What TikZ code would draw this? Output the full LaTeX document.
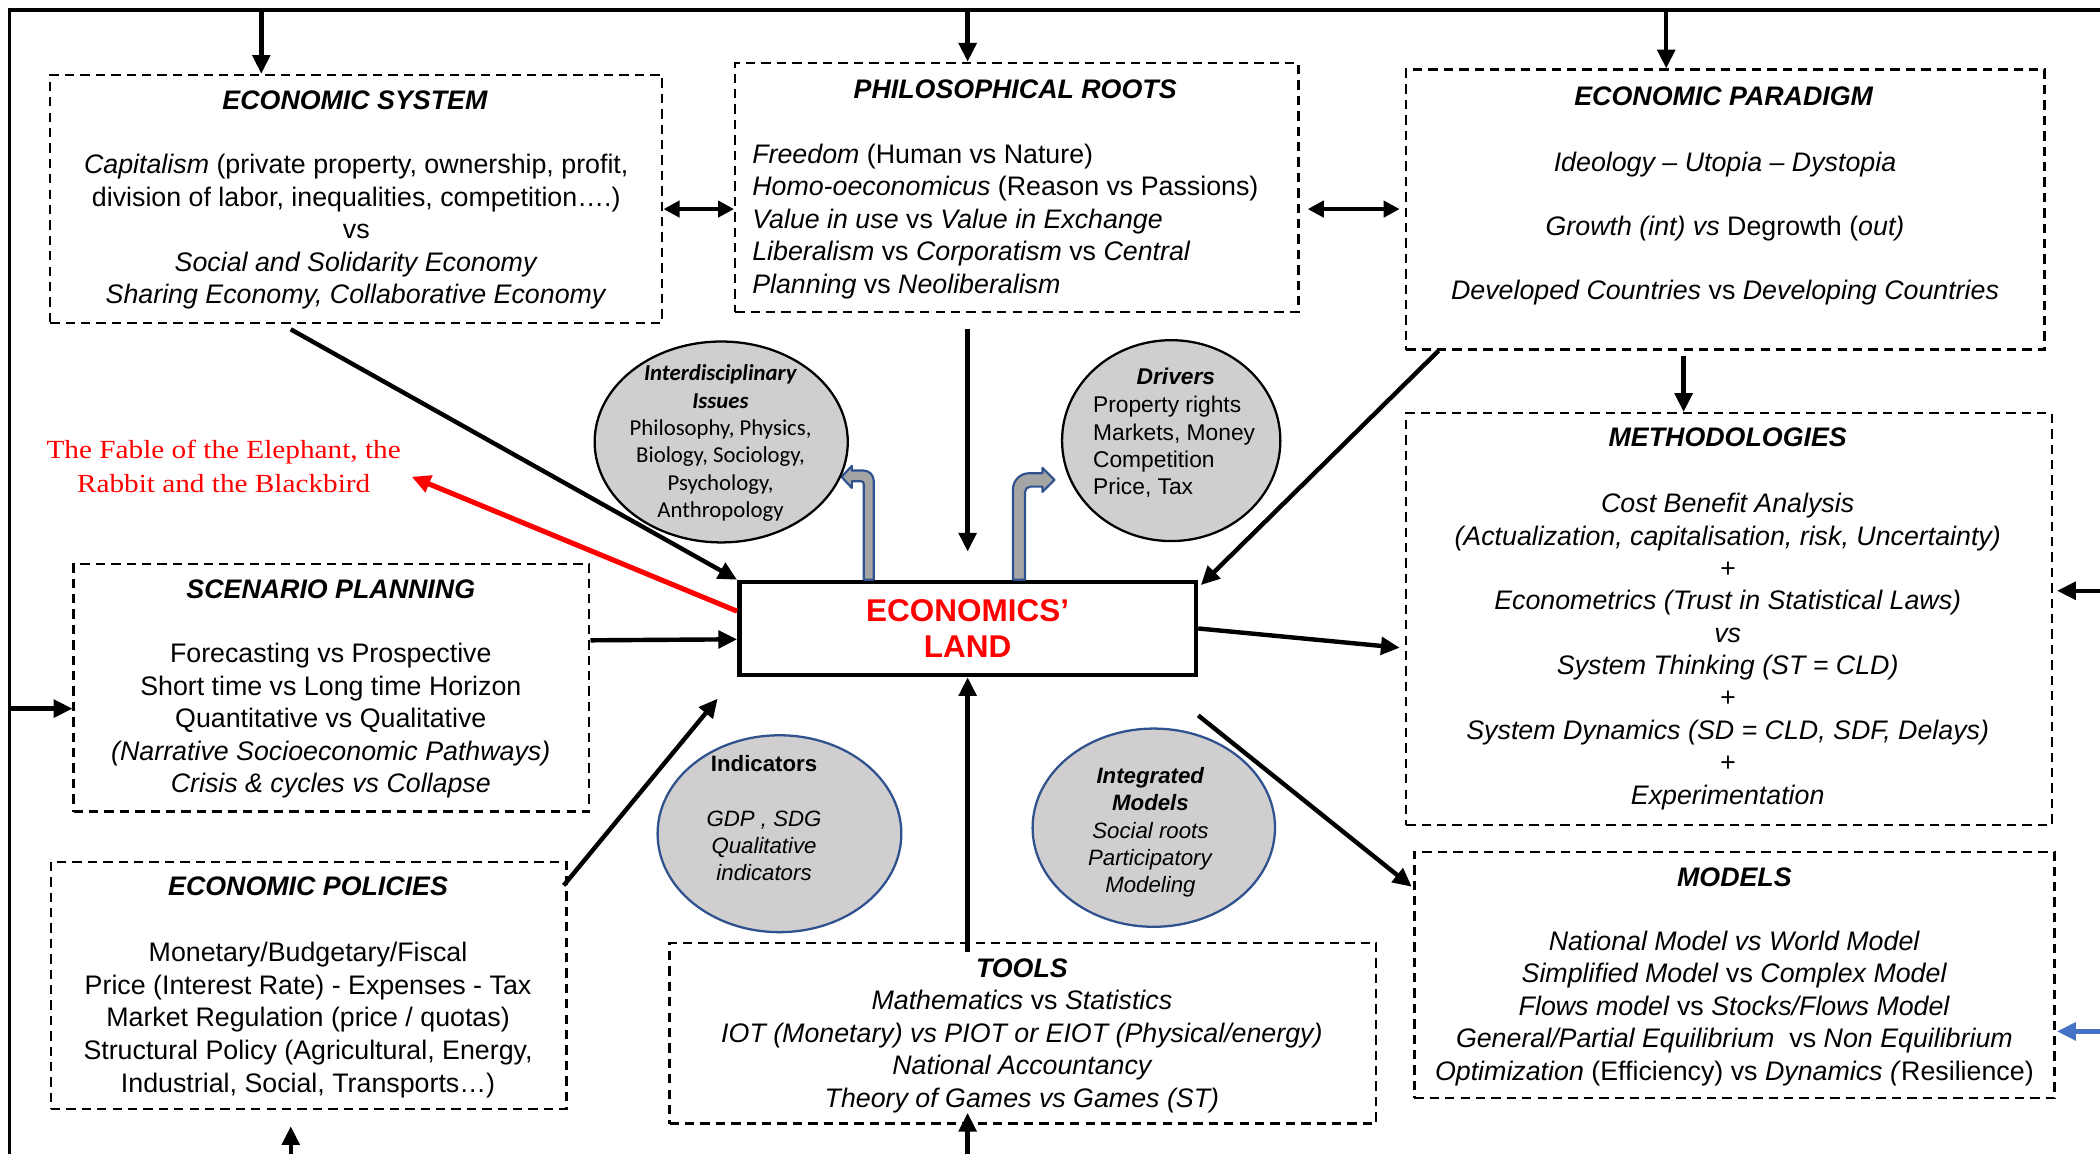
\documentclass[tikz,border=0pt]{standalone}
\usepackage{fontspec}
\setmainfont{Liberation Sans}
\newfontfamily\calibri{Carlito}
\newfontfamily\fablefont[FakeStretch=1.12]{Liberation Serif}
\usetikzlibrary{arrows.meta,calc,shapes.geometric}
\definecolor{ellgray}{HTML}{D0CECE}
\definecolor{darkblue}{HTML}{2F528F}
\definecolor{midblue}{HTML}{4472C4}
\definecolor{arrgray}{HTML}{A5A5A5}
\newcommand{\fst}{\rule{0pt}{0.9em}}
\begin{document}
\begin{tikzpicture}[x=1pt,y=-1pt,
  dbox/.style={draw, line width=1.8pt, dash pattern=on 7pt off 4.5pt, inner sep=0pt},
  framel/.style={line width=2.4pt},
  conn/.style={line width=3.3pt, -{Triangle[length=14pt,width=13pt]}},
  dconn/.style={line width=3.3pt, {Triangle[length=12pt,width=12pt]}-{Triangle[length=12pt,width=12pt]}},
  rconn/.style={conn, red, line width=3.8pt},
  bconn/.style={conn, midblue},
  ell/.style={ellipse, draw=black, line width=1.7pt, fill=ellgray, inner sep=0pt},
  bell/.style={ell, draw=darkblue},
  ttl/.style={font=\fontsize{20}{24}\selectfont\bfseries\itshape, anchor=base, inner sep=0pt},
  body/.style={font=\fontsize{20}{24.25}\selectfont, align=center, anchor=north, inner sep=0pt},
  bent/.style={fill=arrgray, draw=darkblue, line width=1.6pt, line join=round},
]
\useasboundingbox (0,0) rectangle (1568,862);
\fill[white] (0,0) rectangle (1568,862);

% boxes
\node[dbox, minimum width=457pt, minimum height=185pt] (esys) at (266,148.5) {};
\node[dbox, minimum width=420.5pt, minimum height=186pt] (phil) at (759.25,140) {};
\node[dbox, minimum width=476.5pt, minimum height=209pt] (para) at (1288.25,156.5) {};
\node[dbox, minimum width=482pt, minimum height=307.5pt] (meth) at (1291,462.25) {};
\node[dbox, minimum width=478pt, minimum height=184pt] (models) at (1295,728) {};
\node[dbox, minimum width=385pt, minimum height=185pt] (scen) at (247.5,513.5) {};
\node[dbox, minimum width=385pt, minimum height=184.5pt] (pol) at (230.5,735.75) {};
\node[dbox, minimum width=527.5pt, minimum height=135pt] (tools) at (763.75,771.5) {};

\node[draw, line width=3.3pt, fill=white, minimum width=341pt, minimum height=69.5pt, inner sep=0pt, align=center, text=red, font=\fontsize{23.5}{27}\selectfont\bfseries] (land) at (722.5,469.25) {ECONOMICS’\\LAND};

% box texts
\node[ttl] (esyst) at (265,81.6) {ECONOMIC SYSTEM};
\node[body] (esysb) at (266,111.6) {\fst\textit{Capitalism} (private property, ownership, profit,\\division of labor, inequalities, competition….)\\vs\\\textit{Social and Solidarity Economy}\\\textit{Sharing Economy, Collaborative Economy}};

\node[ttl] (philt) at (758,73.6) {PHILOSOPHICAL ROOTS};
\node[body, align=left, anchor=north west] (philb) at (561.5,103.6) {\fst\textit{Freedom} (Human vs Nature)\\\textit{Homo-oeconomicus} (Reason vs Passions)\\\textit{Value in use} vs \textit{Value in Exchange}\\\textit{Liberalism} vs \textit{Corporatism} vs \textit{Central}\\\textit{Planning} vs \textit{Neoliberalism}};

\node[ttl] (parat) at (1287,78.6) {ECONOMIC PARADIGM};
\node[body, font=\fontsize{20}{48}\selectfont] (parab) at (1288,109.6) {\fst\textit{Ideology – Utopia – Dystopia}\\\textit{Growth (int) vs} Degrowth (\textit{out)}\\\textit{Developed Countries} vs \textit{Developing Countries}};

\node[ttl] (metht) at (1290,333.6) {METHODOLOGIES};
\node[body, font=\fontsize{20}{24.17}\selectfont\itshape] (methb) at (1290,364.6) {\fst Cost Benefit Analysis\\(Actualization, capitalisation, risk, Uncertainty)\\+\\Econometrics (Trust in Statistical Laws)\\vs\\System Thinking (ST = CLD)\\+\\System Dynamics (SD = CLD, SDF, Delays)\\+\\Experimentation};

\node[ttl] (modt) at (1295,661.6) {MODELS};
\node[body, font=\fontsize{20}{24.35}\selectfont] (modb) at (1295,691.2) {\fst\textit{National Model vs World Model}\\\textit{Simplified Model} vs \textit{Complex Model}\\\textit{Flows model} vs \textit{Stocks/Flows Model}\\\textit{General/Partial Equilibrium}\ \ vs \textit{Non Equilibrium}\\\textit{Optimization} (Efficiency) vs \textit{Dynamics (}Resilience)};

\node[ttl] (scent) at (247,447.1) {SCENARIO PLANNING};
\node[body] (scenb) at (247,476.6) {\fst Forecasting vs Prospective\\Short time vs Long time Horizon\\Quantitative vs Qualitative\\\textit{(Narrative Socioeconomic Pathways)}\\\textit{Crisis \& cycles vs Collapse}};

\node[ttl] (polt) at (230,668.6) {ECONOMIC POLICIES};
\node[body, font=\fontsize{20}{24.5}\selectfont] (polb) at (230,699.6) {\fst Monetary/Budgetary/Fiscal\\Price (Interest Rate) - Expenses - Tax\\Market Regulation (price / quotas)\\Structural Policy (Agricultural, Energy,\\Industrial, Social, Transports…)};

\node[ttl] (toolst) at (763,729.6) {TOOLS};
\node[body, font=\fontsize{20}{24.3}\selectfont\itshape] (toolsb) at (763,735.6) {\fst Mathematics \textup{vs} Statistics\\IOT (Monetary) vs PIOT or EIOT (Physical/energy)\\National Accountancy\\Theory of Games vs Games (ST)};

\node[font=\fablefont\fontsize{19.5}{26}\selectfont, text=red, align=center, anchor=north, inner sep=0pt] (fable) at (167,324.3) {\fst The Fable of the Elephant, the\\Rabbit and the Blackbird};

% frame
\coordinate (ftl) at (7.3,7.5);
\coordinate (ftr) at (1568,7.5);
\coordinate (fbl) at (7.3,862);
\draw[framel] (fbl) -- (ftl) -- (ftr);

\coordinate (esysT) at ($(esys.north west)+(158.5,0)$);
\draw[conn] (ftl -| esysT) -- (esysT);
\draw[conn] (ftl -| land.north) -- (land.north |- phil.north);
\coordinate (paraT) at ($(para.north west)+(195,0)$);
\draw[conn] (ftl -| paraT) -- (paraT);
\coordinate (scenL) at ($(scen.north west)+(0,109)$);
\draw[conn] (ftl |- scenL) -- (scenL);
\coordinate (methR) at ($(meth.north east)+(3,133.5)$);
\draw[conn] (ftr |- methR) -- (methR);
\coordinate (modR) at ($(models.north east)+(1,135)$);
\draw[bconn] (ftr |- modR) -- (modR);
\coordinate (polB) at ($(pol.south west)+(180,12)$);
\draw[conn] (fbl -| polB) -- (polB);
\coordinate (toolsB) at ($(land.south |- tools.south)+(0,-9)$);
\draw[conn] (fbl -| toolsB) -- (toolsB);

% double arrows
\draw[dconn] ($(esys.north east)+(0,101)$) -- ($(phil.north west)+(0,110)$);
\draw[dconn] ($(phil.north east)+(6,110)$) -- ($(para.north west)+(-4,105)$);

% paradigm -> methodologies
\coordinate (paraB) at ($(para.south west)+(208,4)$);
\draw[conn] (paraB) -- (paraB |- meth.north);

% connectors around the land
\draw[conn] ($(esys.south west)+(180.5,4)$) -- (land.north west);
\draw[conn] ($(land.north |- phil.south)+(0,12)$) -- ($(land.north)+(0,-21)$);
\draw[conn] ($(para.south west)+(25,0)$) -- ($(land.north east)+(2,4)$);
\draw[conn] ($(scen.north east)+(0,58)$) -- ($(land.north west)+(0,44.5)$);
\draw[conn] ($(pol.north east)+(-3,18.5)$) -- ($(land.south west)+(-14.5,16)$);
\draw[conn] ($(land.south |- tools.north)+(0,8)$) -- (land.south);
\draw[conn] (land.east) -- ($(meth.north west)+(-4,176)$);
\draw[conn] ($(land.south east)+(0,28.5)$) -- ($(models.north west)+(-1,27)$);
\coordinate (fableTip) at ($(fable.north east)+(8,31.7)$);
\draw[rconn] ($(land.north west)+(0,23.5)$) -- (fableTip);

% bent arrows
\begin{scope}[shift={(land.north west)}]
\draw[bent] (94.6,0) -- (94.6,-71.5) .. controls (94.6,-72.6) and (93.7,-73.5) .. (92.6,-73.5) -- (85.7,-73.5) -- (85.7,-68.5) -- (78,-76.8) -- (85.7,-85) -- (85.7,-81.5) -- (94.5,-81.5) .. controls (98.6,-81.5) and (102,-78.1) .. (102,-74) -- (102,0) -- cycle;
\draw[bent] (206,0) -- (206,-67.5) .. controls (206,-74.1) and (211.4,-79.5) .. (218,-79.5) -- (228,-79.5) -- (228,-83.5) -- (237,-74.5) -- (228,-65.5) -- (228,-69.5) -- (219,-69.5) .. controls (216.8,-69.5) and (215,-67.7) .. (215,-65.5) -- (215,0) -- cycle;
\end{scope}

% ellipses
\node[ell, minimum width=189pt, minimum height=150pt] (inter) at (538.5,330) {};
\node[ell, minimum width=163pt, minimum height=150pt] (drv) at (874.5,329) {};
\node[bell, minimum width=182pt, minimum height=147pt] (ind) at (582,622.5) {};
\node[bell, minimum width=181pt, minimum height=148pt] (integ) at (861.5,618) {};

\node[font=\calibri\fontsize{17}{20.4}\selectfont, align=center, anchor=north, inner sep=0pt] (intert) at (538,268.8) {\fst\textbf{\textit{Interdisciplinary}}\\\textbf{\textit{Issues}}\\Philosophy, Physics,\\Biology, Sociology,\\Psychology,\\Anthropology};
\node[font=\fontsize{17}{20.4}\selectfont\bfseries\itshape, anchor=base, inner sep=0pt] (drvt) at (878,287.1) {Drivers};
\node[font=\fontsize{17}{20.4}\selectfont, align=left, anchor=north west, inner sep=0pt] (drvb) at (816,292.8) {\fst Property rights\\Markets, Money\\Competition\\Price, Tax};
\node[font=\fontsize{16.6}{20.5}\selectfont, align=center, anchor=north, inner sep=0pt] (indt) at (570.5,560.6) {\fst\textbf{Indicators}\\[20.5pt]\textit{GDP , SDG}\\\textit{Qualitative}\\\textit{indicators}};
\node[font=\fontsize{16.6}{20.5}\selectfont, align=center, anchor=north, inner sep=0pt] (integt) at (859,569.6) {\fst\textbf{\textit{Integrated}}\\\textbf{\textit{Models}}\\\textit{Social roots}\\\textit{Participatory}\\\textit{Modeling}};
\end{tikzpicture}
\end{document}
